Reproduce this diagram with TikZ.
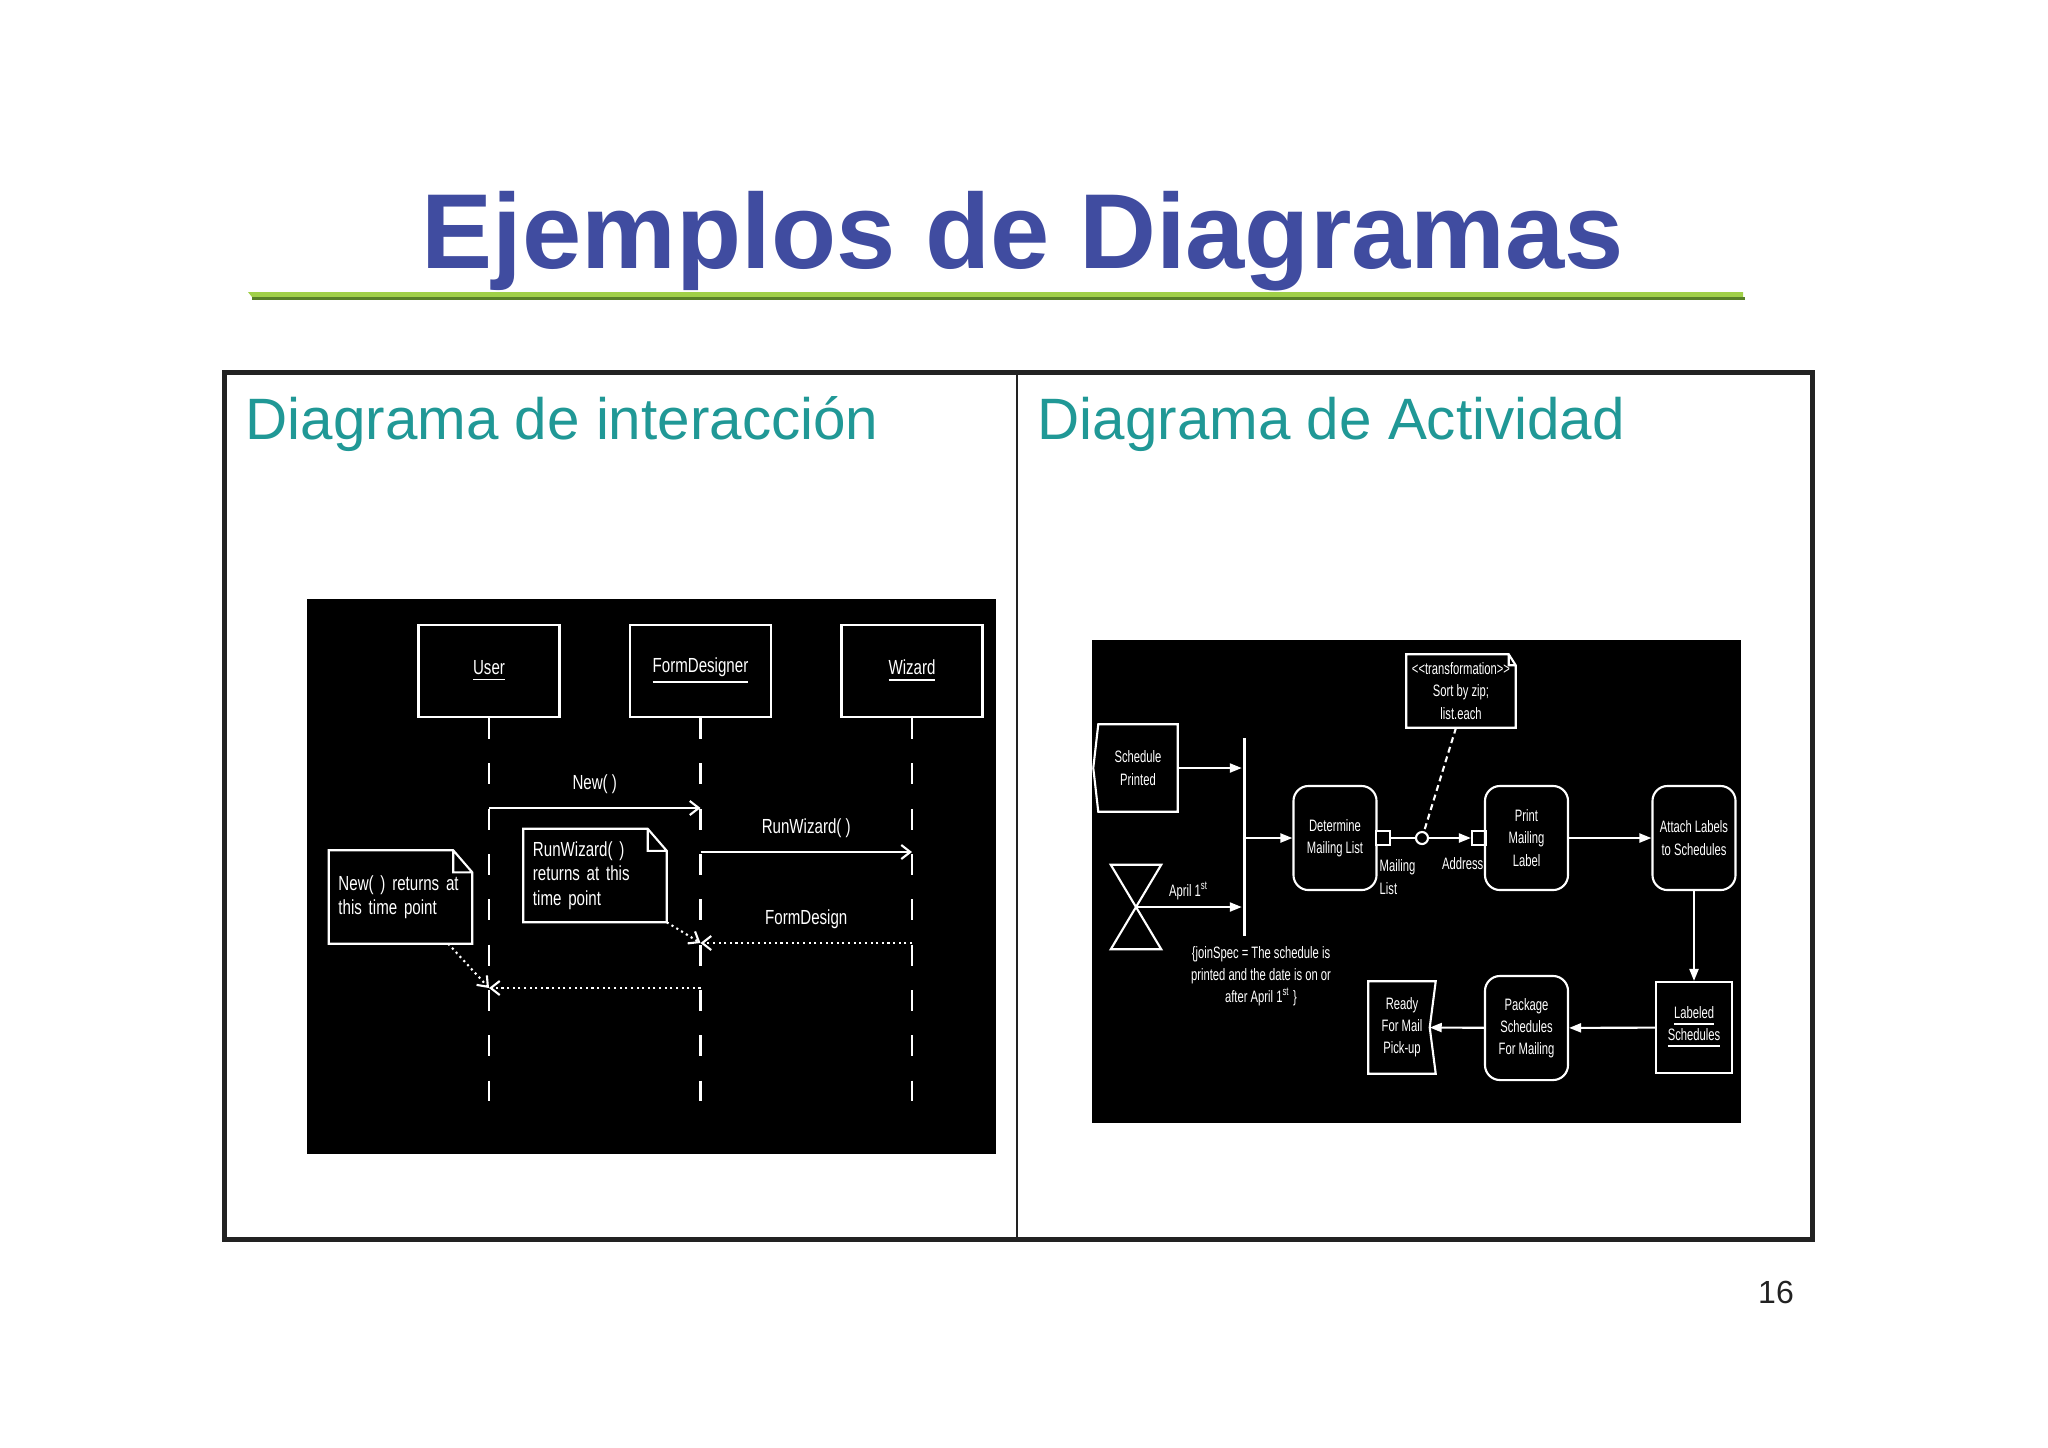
\documentclass[tikz,border=0pt]{standalone}
\usepackage{fontspec}
\setmainfont{Liberation Sans}
\newfontfamily\seqfont[FakeStretch=0.74]{Liberation Sans}
\newfontfamily\actfont[FakeStretch=0.68]{Liberation Sans}
\usetikzlibrary{arrows.meta}

\definecolor{titleblue}{RGB}{64,76,160}
\definecolor{subteal}{RGB}{32,152,150}
\definecolor{barlight}{RGB}{160,208,72}
\definecolor{bardark}{RGB}{88,128,40}
\definecolor{framegray}{RGB}{34,34,34}

\tikzset{
  seqtext/.style={text=white, font=\seqfont\fontsize{5.8}{6.9}\selectfont},
  seqbox/.style={seqtext, draw=white, line width=0.6pt, minimum width=1.41cm, minimum height=0.92cm},
  seqnote/.style={seqtext, minimum height=0.92cm, text width=1.24cm, inner xsep=0.09cm, align=left},
  lifeline/.style={draw=white, line width=0.6pt, dash pattern=on 0.21cm off 0.243cm},
  msg/.style={draw=white, line width=0.6pt, -{Straight Barb[length=0.09cm,width=0.14cm]}},
  reply/.style={msg, densely dotted},
  acttext/.style={text=white, font=\actfont\fontsize{4.7}{6.3}\selectfont, inner sep=0pt, align=center},
  actline/.style={draw=white, line width=0.6pt},
  actnode/.style={acttext, actline, rounded corners=0.15cm, minimum width=0.83cm, minimum height=1.04cm},
  actarrow/.style={actline, -{Triangle[length=0.12cm,width=0.09cm]}},
  pinbox/.style={actline, fill=black, inner sep=0pt, minimum size=0.14cm}
}

\begin{document}
\begin{tikzpicture}[x=0.01cm, y=-0.01cm]
    \fill[white] (0,0) rectangle (2048,1447);
    \useasboundingbox (0,0) rectangle (2048,1447);

    \node[font=\bfseries\fontsize{30.3}{36}\selectfont, text=titleblue, anchor=base] (title) at (1023,268) {Ejemplos de Diagramas};
    \fill[barlight] (248,292) -- (1743,292) -- (1743,297) -- (252,297) -- cycle;
    \fill[bardark] (252,297) rectangle (1745,300);

    \draw[framegray, line width=0.05cm] (224,372) rectangle (1812,1239);
    \draw[framegray, line width=0.02cm] (1017,372) -- (1017,1239);
    \node[anchor=base west, inner sep=0pt, text=subteal, font=\fontsize{16.6}{20}\selectfont] (subL) at (245,439) {Diagrama de interacción};
    \node[anchor=base west, inner sep=0pt, text=subteal, font=\fontsize{16.6}{20}\selectfont] (subR) at (1037,439) {Diagrama de Actividad};
    \node[anchor=base, inner sep=0pt, text=framegray, font=\fontsize{9.1}{11}\selectfont] (pagenum) at (1776,1303) {16};

    % interaccion
    \fill[black] (307,599) rectangle (996,1154);
    \node[seqbox] (user) at (489,671) {\underline{User}};
    \node[seqbox] (fd) at (700.5,671) {\underline{FormDesigner}};
    \node[seqbox] (wiz) at (912,671) {\underline{Wizard}};
    \coordinate (userEnd) at (489,1101);
    \coordinate (fdEnd) at (700.5,1101);
    \coordinate (wizEnd) at (912,1101);
    \draw[lifeline] (user) -- (userEnd);
    \draw[lifeline] (fd) -- (fdEnd);
    \draw[lifeline] (wiz) -- (wizEnd);

    \coordinate (uNew) at (489,808);
    \coordinate (fNew) at (700.5,808);
    \coordinate (fRun) at (700.5,852);
    \coordinate (wRun) at (912,852);
    \coordinate (wForm) at (912,943);
    \coordinate (fForm) at (700.5,943);
    \coordinate (fRet) at (700.5,988);
    \coordinate (uRet) at (489,988);
    \draw[msg] (uNew) -- node[seqtext, yshift=0.24cm] {New( )} (fNew);
    \draw[msg] (fRun) -- node[seqtext, yshift=0.24cm] {RunWizard( )} (wRun);
    \draw[reply] (wForm) -- node[seqtext, yshift=0.24cm] {FormDesign} (fForm);
    \draw[reply] (fRet) -- (uRet);

    \node[seqnote] (noteNew) at (400.5,897) {New( ) returns at\\this time point};
    \node[seqnote] (noteRun) at (595,875.5) {RunWizard( )\\returns at this\\time point};
    \foreach \n in {noteNew, noteRun}
      \draw[white, line width=0.6pt] (\n.north west) -- ([xshift=-0.19cm]\n.north east) -- ([yshift=-0.22cm]\n.north east) -- (\n.south east) -- (\n.south west) -- cycle
        ([xshift=-0.19cm]\n.north east) |- ([yshift=-0.22cm]\n.north east);
    \draw[reply] ([xshift=-0.24cm]noteNew.south east) -- (uRet);
    \draw[reply] (noteRun.south east) -- (fForm);

    % actividad
    \fill[black] (1092,640) rectangle (1741,1123);
    \node[acttext, minimum width=0.78cm, minimum height=0.86cm] (sched) at (1138,768) {Schedule\\Printed};
    \draw[actline] (sched.north east) -- (sched.north west) -- ([xshift=-0.05cm]sched.west) -- (sched.south west) -- (sched.south east) -- cycle;
    \node[fill=white, inner sep=0pt, minimum width=0.03cm, minimum height=1.98cm] (join) at (1244,837) {};
    \node[inner sep=0pt, minimum width=0.49cm, minimum height=0.83cm] (timer) at (1136,907) {};
    \draw[actline] (timer.north west) -- (timer.north east) -- (timer.south west) -- (timer.south east) -- cycle;
    \draw[actarrow] (sched.east) -- (sched.east -| join.west);
    \draw[actarrow] (timer.center) -- node[acttext, yshift=0.16cm] {April 1\textsuperscript{st}} (timer.center -| join.west);
    \node[acttext] (joinspec) at (1261,976) {\{joinSpec = The schedule is\\printed and the date is on or\\after April 1\textsuperscript{st}\,\}};

    \node[actnode] (detml) at (1335,838) {Determine\\Mailing List};
    \node[pinbox] (pinOut) at (1383,838) {};
    \node[actline, fill=black, circle, inner sep=0pt, minimum size=0.12cm] (flow) at (1422,838) {};
    \node[pinbox] (pinIn) at (1479,838) {};
    \node[actnode] (pml) at (1526.5,838) {Print\\Mailing\\Label};
    \node[actnode] (attach) at (1694,838) {Attach Labels\\to Schedules};
    \node[acttext, actline, minimum width=0.76cm, minimum height=0.91cm] (labeled) at (1694,1027.5) {\underline{Labeled}\\\underline{Schedules}};
    \node[actnode] (pkg) at (1526.5,1028) {Package\\Schedules\\For Mailing};
    \node[acttext, minimum width=0.66cm, minimum height=0.91cm] (ready) at (1402,1027.5) {Ready\\For Mail\\Pick-up};
    \draw[actline] (ready.north west) -- (ready.north east) -- ([xshift=-0.06cm]ready.east) -- (ready.south east) -- (ready.south west) -- cycle;
    \node[acttext, anchor=west, align=left] (mlList) at (1379,877) {Mailing\\List};
    \node[acttext, anchor=east] (addr) at (1484,864) {Address};

    \node[acttext, minimum width=1.08cm, minimum height=0.72cm] (trans) at (1461,691) {<{}<transformation>{}>\\Sort by zip;\\list.each};
    \draw[actline] (trans.north west) -- ([xshift=-0.07cm]trans.north east) -- ([yshift=-0.11cm]trans.north east) -- (trans.south east) -- (trans.south west) -- cycle
      ([xshift=-0.07cm]trans.north east) |- ([yshift=-0.11cm]trans.north east);

    \draw[actarrow] (detml.west -| join.east) -- (detml.west);
    \draw[actline] (pinOut) -- (flow);
    \draw[actarrow] (flow) -- (pinIn);
    \draw[actarrow] (pml) -- (attach);
    \draw[actarrow] (attach) -- (labeled);
    \draw[actarrow] (labeled) -- (pkg);
    \draw[actarrow] (pkg) -- ([xshift=-0.06cm]ready.east);
    \draw[actline, dash pattern=on 0.06cm off 0.04cm] ([xshift=-0.05cm]trans.south) -- (flow);
\end{tikzpicture}
\end{document}
